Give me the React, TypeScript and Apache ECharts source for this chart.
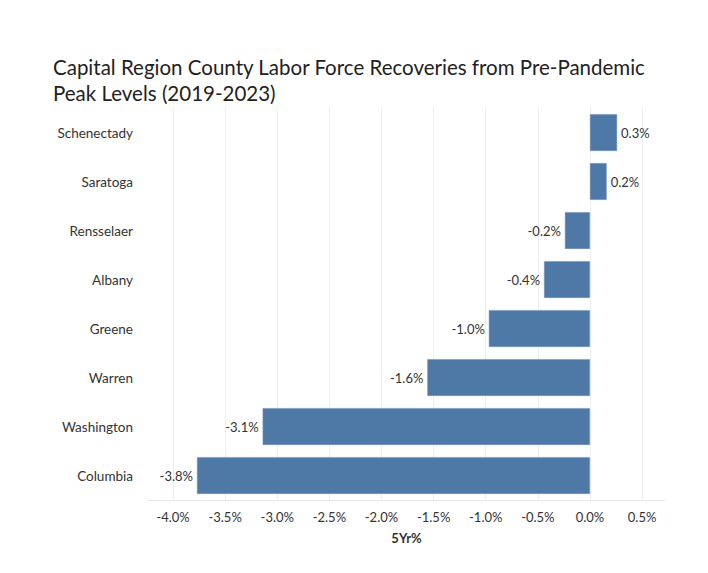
import React, { useEffect, useRef } from "react";
import * as echarts from "echarts";

const titleLines = [
  "Capital Region County Labor Force Recoveries from Pre-Pandemic",
  "Peak Levels (2019-2023)",
];
const counties = [
  "Schenectady",
  "Saratoga",
  "Rensselaer",
  "Albany",
  "Greene",
  "Warren",
  "Washington",
  "Columbia",
];
const changes = [0.26, 0.16, -0.24, -0.44, -0.97, -1.56, -3.14, -3.77];
const axisName = "5Yr%";
const axisMin = -4.24;
const axisMax = 0.72;

const FONT = "Lato";

export default function App() {
  const ref = useRef<HTMLDivElement>(null);
  useEffect(() => {
    if (!ref.current) return;
    const chart = echarts.init(ref.current, undefined, { renderer: "svg" });
    chart.setOption({
      animation: false,
      backgroundColor: "#ffffff",
      title: {
        text: titleLines.join("\n"),
        left: 48,
        top: 49,
        textStyle: {
          fontFamily: FONT,
          fontSize: 20.5,
          fontWeight: "normal",
          color: "#222222",
          lineHeight: 26,
        },
      },
      grid: { left: 148, right: 43, top: 108, bottom: 73 },
      xAxis: {
        type: "value",
        min: axisMin,
        max: axisMax,
        splitNumber: 10,
        name: axisName,
        nameLocation: "middle",
        nameGap: 31,
        nameTextStyle: {
          fontFamily: FONT,
          fontSize: 13,
          fontWeight: "bold",
          color: "#333333",
        },
        axisLine: { show: true, lineStyle: { color: "#e8e8e8" } },
        axisTick: { show: false },
        axisLabel: {
          fontFamily: FONT,
          fontSize: 13,
          color: "#333333",
          margin: 10,
          showMinLabel: false,
          showMaxLabel: false,
          formatter: (v: number) => {
            const r = Math.round(v * 10) / 10;
            if (Math.abs(r * 2 - Math.round(r * 2)) > 1e-6) return "";
            return r.toFixed(1) + "%";
          },
        },
        splitLine: {
          show: true,
          showMinLine: false,
          showMaxLine: false,
          lineStyle: { color: "#efefef", width: 1 },
        },
      },
      yAxis: {
        type: "category",
        data: counties,
        inverse: true,
        axisLine: { show: false },
        axisTick: { show: false },
        axisLabel: {
          fontFamily: FONT,
          fontSize: 13.5,
          color: "#333333",
          margin: 15,
        },
        splitLine: { show: false },
      },
      series: [
        {
          type: "bar",
          barWidth: "75%",
          data: changes.map((v) => ({
            value: v,
            label: { position: v >= 0 ? "right" : "left" },
          })),
          itemStyle: { color: "#4e79a7", borderColor: "#6d90b8", borderWidth: 0.5 },
          label: {
            show: true,
            distance: 4,
            fontFamily: FONT,
            fontSize: 13,
            color: "#333333",
            formatter: (p: any) => Number(p.value).toFixed(1) + "%",
          },
        },
      ],
    });
    return () => chart.dispose();
  }, []);
  return (
    <div
      ref={ref}
      style={{ position: "fixed", left: 0, top: 0, width: 708, height: 573 }}
    />
  );
}
